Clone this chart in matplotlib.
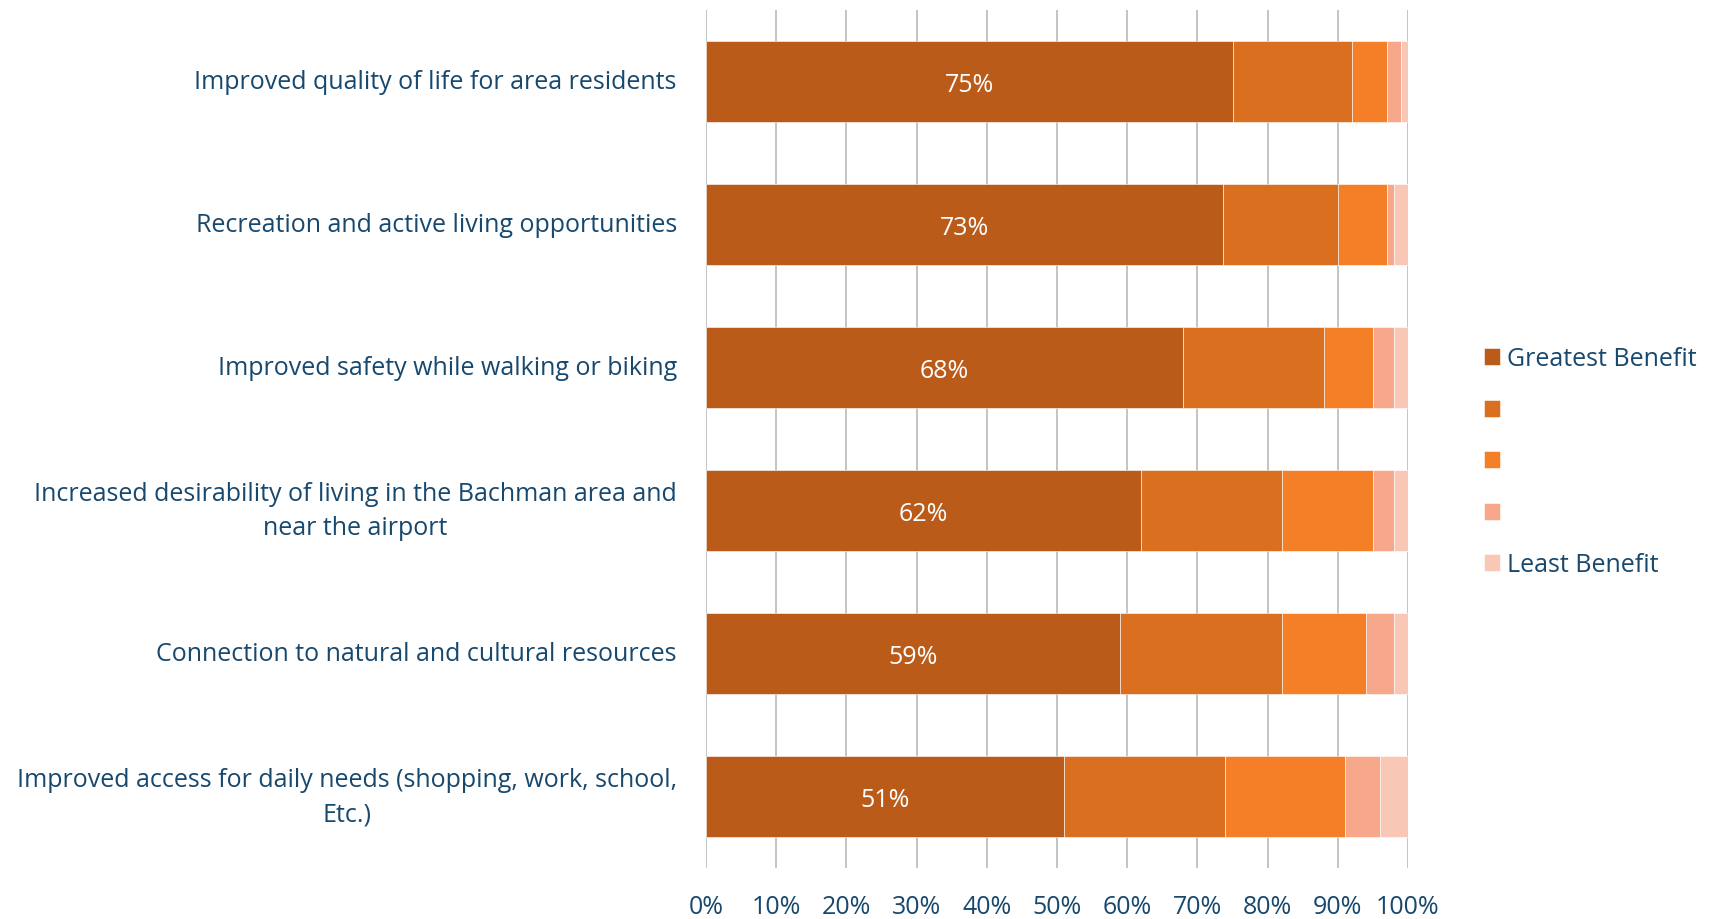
import matplotlib
matplotlib.use("Agg")
import matplotlib.pyplot as plt
import numpy as np

categories = [
    "Improved quality of life for area residents",
    "Recreation and active living opportunities",
    "Improved safety while walking or biking",
    "Increased desirability of living in the Bachman area and\nnear the airport",
    "Connection to natural and cultural resources",
    "Improved access for daily needs (shopping, work, school,\nEtc.)",
]
greatest = [75, 73.7, 68, 62, 59, 51]
second = [17, 16.3, 20, 20, 23, 23]
third = [5, 7, 7, 13, 12, 17]
fourth = [2, 1, 3, 3, 4, 5]
least = [1, 2, 2, 2, 2, 4]
bar_labels = ["75%", "73%", "68%", "62%", "59%", "51%"]
legend_labels = ["Greatest Benefit", " ", "  ", "   ", "Least Benefit"]
xticks = [0, 10, 20, 30, 40, 50, 60, 70, 80, 90, 100]

colors = ["#BA5B1A", "#DA6F1F", "#F47F26", "#F7A88A", "#F9C7B5"]
text_color = "#17486E"

plt.rcParams['font.family'] = ['Open Sans', 'DejaVu Sans']

fig = plt.figure(figsize=(17.09, 9.2), dpi=100)
ax = fig.add_axes([706/1709, 1 - 869/920, (1408-706)/1709, (869-11)/920])

y = np.arange(len(categories))
series = [greatest, second, third, fourth, least]
left = np.zeros(len(categories))
handles = []
for vals, c, lab in zip(series, colors, legend_labels):
    vals = np.array(vals, dtype=float)
    b = ax.barh(y, vals, left=left, height=0.57, color=c, edgecolor='white',
                linewidth=0.4, label=lab, zorder=2)
    handles.append(b)
    left = left + vals

for yi, v, t in zip(y, greatest, bar_labels):
    ax.text(v / 2, yi, t, ha='center', va='center_baseline', color='white', fontsize=18, zorder=3)

ax.set_xlim(0, 100)
ax.set_ylim(len(categories) - 0.5, -0.5)
ax.set_xticks(xticks)
ax.set_xticklabels([f"{v}%" for v in xticks])
ax.set_yticks(y)
ax.set_yticklabels(categories)
for lbl in ax.get_yticklabels():
    lbl.set_multialignment('center')
    lbl.set_linespacing(1.5)
    lbl.set_verticalalignment('center')
ax.tick_params(axis='both', length=0, labelsize=18, labelcolor=text_color)
ax.tick_params(axis='y', pad=21)
ax.tick_params(axis='x', pad=19)
ax.grid(axis='x', color='#BFBFBF', linewidth=1.3, zorder=0)
ax.set_axisbelow(True)
for s in ax.spines.values():
    s.set_visible(False)

leg = fig.legend(handles=handles, labels=legend_labels, loc='upper left',
                 bbox_to_anchor=(1461/1709, 1 - 325/920), frameon=False,
                 fontsize=18, handlelength=0.65, handleheight=0.65,
                 handletextpad=0.3, labelspacing=1.06)
for t in leg.get_texts():
    t.set_color(text_color)

fig.savefig("out.png", dpi=100)
